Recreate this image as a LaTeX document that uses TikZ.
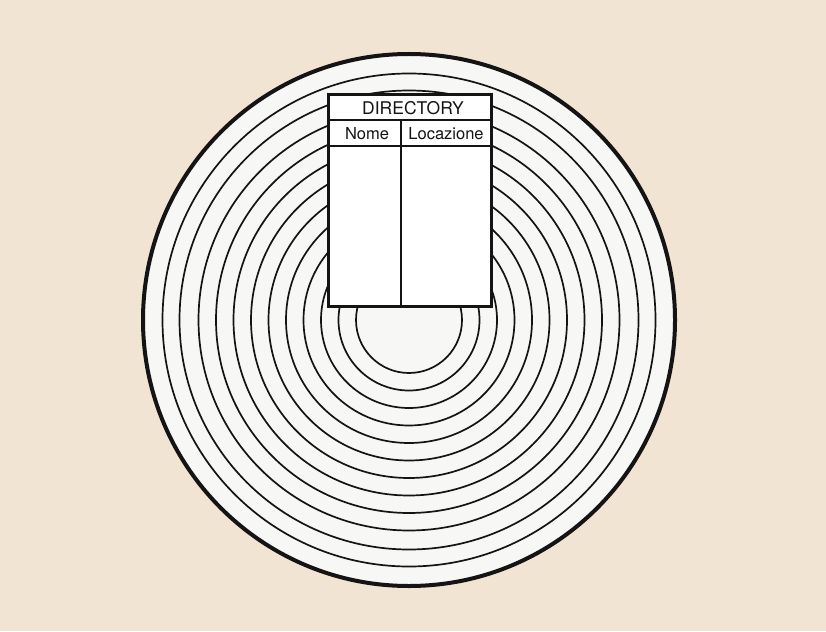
\documentclass[tikz,border=0pt]{standalone}
\usepackage{fontspec}
\setmainfont{TeX Gyre Heros}
\definecolor{bgpeach}{RGB}{242,228,210}
\definecolor{diskwhite}{RGB}{247,247,245}
\definecolor{ink}{RGB}{20,20,20}
\begin{document}
\begin{tikzpicture}[x=1pt,y=-1pt,
  ring/.style={draw=ink,line width=1.7pt},
  outerring/.style={draw=ink,line width=4pt},
  cardbox/.style={draw=ink,line width=3pt,fill=white,minimum width=163pt,minimum height=211pt,inner sep=0pt},
  cardline/.style={draw=ink,line width=2pt},
  label/.style={font=\fontsize{16.5pt}{18pt}\selectfont,text=ink,inner sep=0pt}]
\fill[bgpeach] (0,0) rectangle (826,631);
\useasboundingbox (0,0) rectangle (826,631);
\coordinate (c) at (409,320);
\fill[diskwhite] (c) circle (266pt);
\foreach \r in {53,70.5,88,105.5,123,140.5,158,175.5,193,210.5,229.5,246.5}
  \draw[ring] (c) circle (\r pt);
\draw[outerring] (c) circle (266pt);
\node[cardbox] (card) at (409.5,200.5) {};
\coordinate (h1l) at (card.west |- 0,120);
\coordinate (h1r) at (card.east |- 0,120);
\coordinate (h2l) at (card.west |- 0,146);
\coordinate (h2r) at (card.east |- 0,146);
\coordinate (vt) at (card.north -| 401,0);
\coordinate (vtop) at (vt |- h1l);
\coordinate (vbot) at (card.south -| 401,0);
\draw[cardline] (h1l) -- (h1r);
\draw[cardline] (h2l) -- (h2r);
\draw[cardline] (vtop) -- (vbot);
\node[label,font=\fontsize{17.5pt}{19pt}\selectfont] (dir) at (413,108) {DIRECTORY};
\node[label] (nome) at (367,133.5) {Nome};
\node[label] (loc) at (446,133.5) {Locazione};
\end{tikzpicture}
\end{document}
